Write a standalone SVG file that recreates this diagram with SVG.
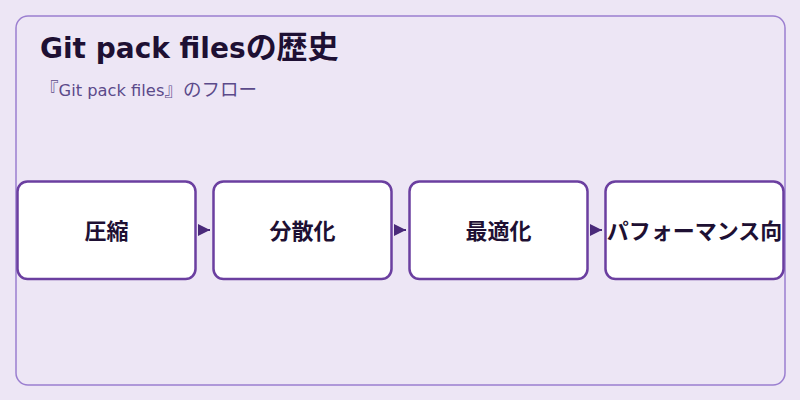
<svg xmlns="http://www.w3.org/2000/svg" width="800" height="400" viewBox="0 0 800 400">
<defs>
<style>
.node rect{fill:#ffffff;stroke:#6b3fa0;stroke-width:2.5}
.node text{font-family:"DejaVu Sans","Noto Sans CJK JP",sans-serif;font-weight:700;font-size:22px;fill:#1e1033;text-anchor:middle}
.conn{stroke:#4a2a7a;stroke-width:2;fill:none}
.cjk{font-family:"Noto Sans CJK JP",sans-serif}
</style>
<marker id="arr" viewBox="0 0 12 12" refX="12" refY="6" markerWidth="12" markerHeight="12" markerUnits="userSpaceOnUse" orient="auto">
<path d="M0,0 L12,6 L0,12 Z" fill="#4a2a7a"/>
</marker>
</defs>
<rect width="800" height="400" fill="#ede6f5"/>
<rect x="16" y="16" width="769" height="369" rx="12" fill="#ede6f5" stroke="#9b7fd0" stroke-width="1.5"/>
<text x="40" y="58" font-family="'DejaVu Sans','Noto Sans CJK JP',sans-serif" font-weight="700" font-size="28" fill="#1e1033">Git pack files<tspan class="cjk" font-size="31">の歴史</tspan></text>
<text x="40" y="95.5" font-family="'DejaVu Sans','Noto Sans CJK JP',sans-serif" font-size="16.3" fill="#5b4a8a"><tspan class="cjk" font-size="18.5">『</tspan>Git pack files<tspan class="cjk" font-size="18.5">』のフロー</tspan></text>
<g id="connectors">
<path class="conn" d="M199,230 L210,230" marker-end="url(#arr)"/>
<path class="conn" d="M395,230 L406,230" marker-end="url(#arr)"/>
<path class="conn" d="M591,230 L602,230" marker-end="url(#arr)"/>
</g>
<g id="n1" class="node"><rect x="17.5" y="181.5" width="178" height="97.5" rx="10"/><text x="106.5" y="238.5">圧縮</text></g>
<g id="n2" class="node"><rect x="213.5" y="181.5" width="178" height="97.5" rx="10"/><text x="302.5" y="238.5">分散化</text></g>
<g id="n3" class="node"><rect x="409.5" y="181.5" width="178" height="97.5" rx="10"/><text x="498.5" y="238.5">最適化</text></g>
<g id="n4" class="node"><rect x="605.5" y="181.5" width="178" height="97.5" rx="10"/><text x="694.5" y="238.5">パフォーマンス向</text></g>
</svg>
